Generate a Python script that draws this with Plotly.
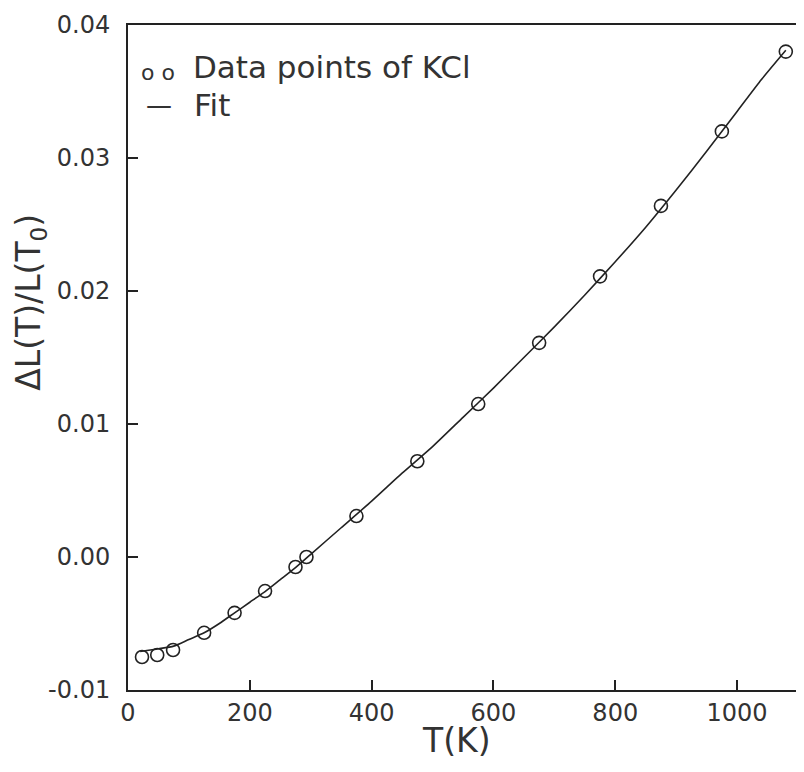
import plotly.graph_objects as go

# Data points of KCl
t_data = [23, 48, 74, 125, 175, 225, 275, 293, 375, 475, 575, 675, 775, 875, 975, 1080]
dl_data = [-0.00752, -0.00737, -0.00699, -0.0057, -0.0042, -0.00256, -0.00075, 0.0000,
           0.00308, 0.0072, 0.0115, 0.0161, 0.0211, 0.0264, 0.0320, 0.0380]

# Fit curve
t_fit = [20, 50, 75, 100, 125, 150, 175, 200, 225, 250, 275, 300, 350, 400, 450, 500,
         550, 600, 650, 700, 750, 800, 850, 900, 950, 1000, 1040, 1080]
dl_fit = [-0.0071, -0.0069, -0.0067, -0.0062, -0.0057, -0.0050, -0.0042, -0.0034, -0.0026,
          -0.0017, -0.0008, 0.0002, 0.0022, 0.0042, 0.0063, 0.0083, 0.0105, 0.0127, 0.0150,
          0.0173, 0.0197, 0.0222, 0.0248, 0.0276, 0.0305, 0.0335, 0.0359, 0.0381]

x_ticks = [0, 200, 400, 600, 800, 1000]
y_ticks = [-0.01, 0.0, 0.01, 0.02, 0.03, 0.04]
y_ticktext = ["-0.01", "0.00", "0.01", "0.02", "0.03", "0.04"]

ink = "#222222"
txt = "#333333"
tick_font = dict(family="DejaVu Sans", size=24, color=txt)
big_font = dict(family="DejaVu Sans", size=33, color=txt)
leg_font = dict(family="DejaVu Sans", size=31, color=txt)

fig = go.Figure()
fig.add_trace(go.Scatter(x=t_fit, y=dl_fit, mode="lines",
                         line=dict(color=ink, width=1.6, shape="spline", smoothing=0.6),
                         name="Fit", showlegend=False))
fig.add_trace(go.Scatter(x=t_data, y=dl_data, mode="markers",
                         marker=dict(symbol="circle-open", size=13, color=ink, line=dict(width=1.6)),
                         name="Data points of KCl", showlegend=False))

# legend drawn as text
fig.add_annotation(xref="paper", yref="paper", x=0.018, y=0.929, xanchor="left", yanchor="middle",
                   text="o o", showarrow=False, borderpad=0,
                   font=dict(family="DejaVu Sans", size=22, color=txt))
fig.add_annotation(xref="paper", yref="paper", x=0.0955, y=0.937, xanchor="left", yanchor="middle",
                   text="Data points of KCl", showarrow=False, borderpad=0, font=leg_font)
fig.add_annotation(xref="paper", yref="paper", x=0.025, y=0.879, xanchor="left", yanchor="middle",
                   text="—", showarrow=False, borderpad=0,
                   font=dict(family="DejaVu Sans", size=26, color=txt))
fig.add_annotation(xref="paper", yref="paper", x=0.097, y=0.879, xanchor="left", yanchor="middle",
                   text="Fit", showarrow=False, borderpad=0, font=leg_font)

# axis titles
fig.add_annotation(xref="paper", yref="paper", x=0.49, y=-0.076, xanchor="center", yanchor="middle",
                   text="T(K)", showarrow=False, font=big_font)
fig.add_annotation(xref="paper", yref="paper", x=-0.1455, y=0.583, xanchor="center", yanchor="middle",
                   textangle=-90, text="ΔL(T)/L(T<sub>0</sub>)", showarrow=False, font=big_font)

axis_common = dict(showline=True, linecolor=ink, linewidth=2, mirror=True, showgrid=False,
                   zeroline=False, ticks="inside", ticklen=10, tickwidth=1.5, tickcolor=ink,
                   tickfont=tick_font, automargin=False)

# the page adds an 8px body margin, so margins are reduced accordingly
fig.update_layout(
    width=804, height=772,
    margin=dict(l=120, r=14, t=17, b=90),
    paper_bgcolor="white", plot_bgcolor="white",
    font=tick_font,
    xaxis=dict(range=[0, 1100], tickvals=x_ticks, **axis_common),
    yaxis=dict(range=[-0.01, 0.04], tickvals=y_ticks, ticktext=y_ticktext,
               ticklabelstandoff=11, **axis_common),
)

fig.write_html("out.html")
